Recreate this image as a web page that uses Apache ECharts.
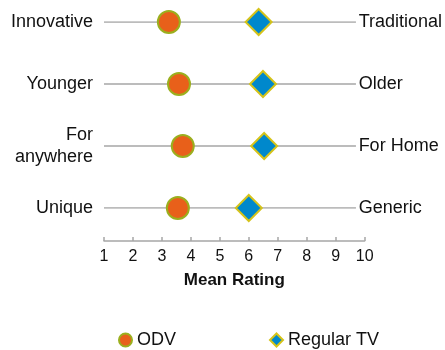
<!DOCTYPE html>
<html lang="en">
<head>
    <meta charset="UTF-8">
    <title>Mean Rating</title>
    <script src="https://cdn.jsdelivr.net/npm/echarts@6/dist/echarts.min.js"></script>
    <style>
        html, body { margin: 0; padding: 0; background: #fff; }
        #chart { width: 445px; height: 350px; }
    </style>
</head>
<body>
<div id="chart"></div>
<script>
    // rows, top to bottom
    var leftLabels = ['Innovative', 'Younger', 'For\nanywhere', 'Unique'];
    var rightLabels = ['Traditional', 'Older', 'For Home', 'Generic'];
    var odv = [3.24, 3.59, 3.72, 3.55];
    var regularTV = [6.34, 6.49, 6.53, 6.0];
    var lineStart = 1, lineEnd = 9.7;

    var font = 'Liberation Sans, Arial, sans-serif';
    var myChart = echarts.init(document.getElementById('chart'));

    var series = leftLabels.map(function (name, i) {
        return {
            type: 'line',
            data: [[lineStart, i], [lineEnd, i]],
            symbol: 'none',
            silent: true,
            lineStyle: {color: '#A6A6A6', width: 1.5},
            z: 1
        };
    });
    series.push({
        name: 'ODV',
        type: 'scatter',
        symbol: 'circle',
        symbolSize: 22,
        data: odv.map(function (v, i) { return [v, i]; }),
        itemStyle: {color: '#E8601A', borderColor: '#9BAF1E', borderWidth: 2, opacity: 1},
        z: 3
    });
    series.push({
        name: 'Regular TV',
        type: 'scatter',
        symbol: 'diamond',
        symbolSize: 26,
        data: regularTV.map(function (v, i) { return [v, i]; }),
        itemStyle: {color: '#0088CC', borderColor: '#D5C31A', borderWidth: 2, opacity: 1},
        z: 3
    });

    myChart.setOption({
        animation: false,
        textStyle: {fontFamily: font},
        grid: {left: 104, right: 80, top: 22, bottom: 142},
        legend: {
            data: ['ODV', 'Regular TV'],
            left: 113,
            top: 326,
            itemWidth: 13,
            itemHeight: 13,
            itemGap: 93,
            textStyle: {fontSize: 18, color: '#111', fontFamily: font}
        },
        xAxis: {
            type: 'value',
            min: 1,
            max: 10,
            interval: 1,
            offset: 33,
            name: 'Mean Rating',
            nameLocation: 'middle',
            nameGap: 31,
            nameTextStyle: {fontSize: 17, fontWeight: 'bold', color: '#111', fontFamily: font},
            axisLine: {show: true, lineStyle: {color: '#A6A6A6', width: 1.5}},
            axisTick: {show: true, inside: true, length: 4, lineStyle: {color: '#A6A6A6', width: 1.5}},
            axisLabel: {fontSize: 16, color: '#111', margin: 8, fontFamily: font},
            splitLine: {show: false}
        },
        yAxis: [{
            type: 'category',
            data: leftLabels,
            inverse: true,
            boundaryGap: false,
            axisLine: {show: false},
            axisTick: {show: false},
            splitLine: {show: false},
            axisLabel: {fontSize: 18, color: '#111', margin: 11, align: 'right', lineHeight: 22, fontFamily: font}
        }, {
            type: 'category',
            data: rightLabels,
            inverse: true,
            boundaryGap: false,
            position: 'right',
            axisLine: {show: false},
            axisTick: {show: false},
            splitLine: {show: false},
            axisLabel: {fontSize: 18, color: '#111', margin: -6, align: 'left', fontFamily: font}
        }],
        series: series
    });
</script>
</body>
</html>
